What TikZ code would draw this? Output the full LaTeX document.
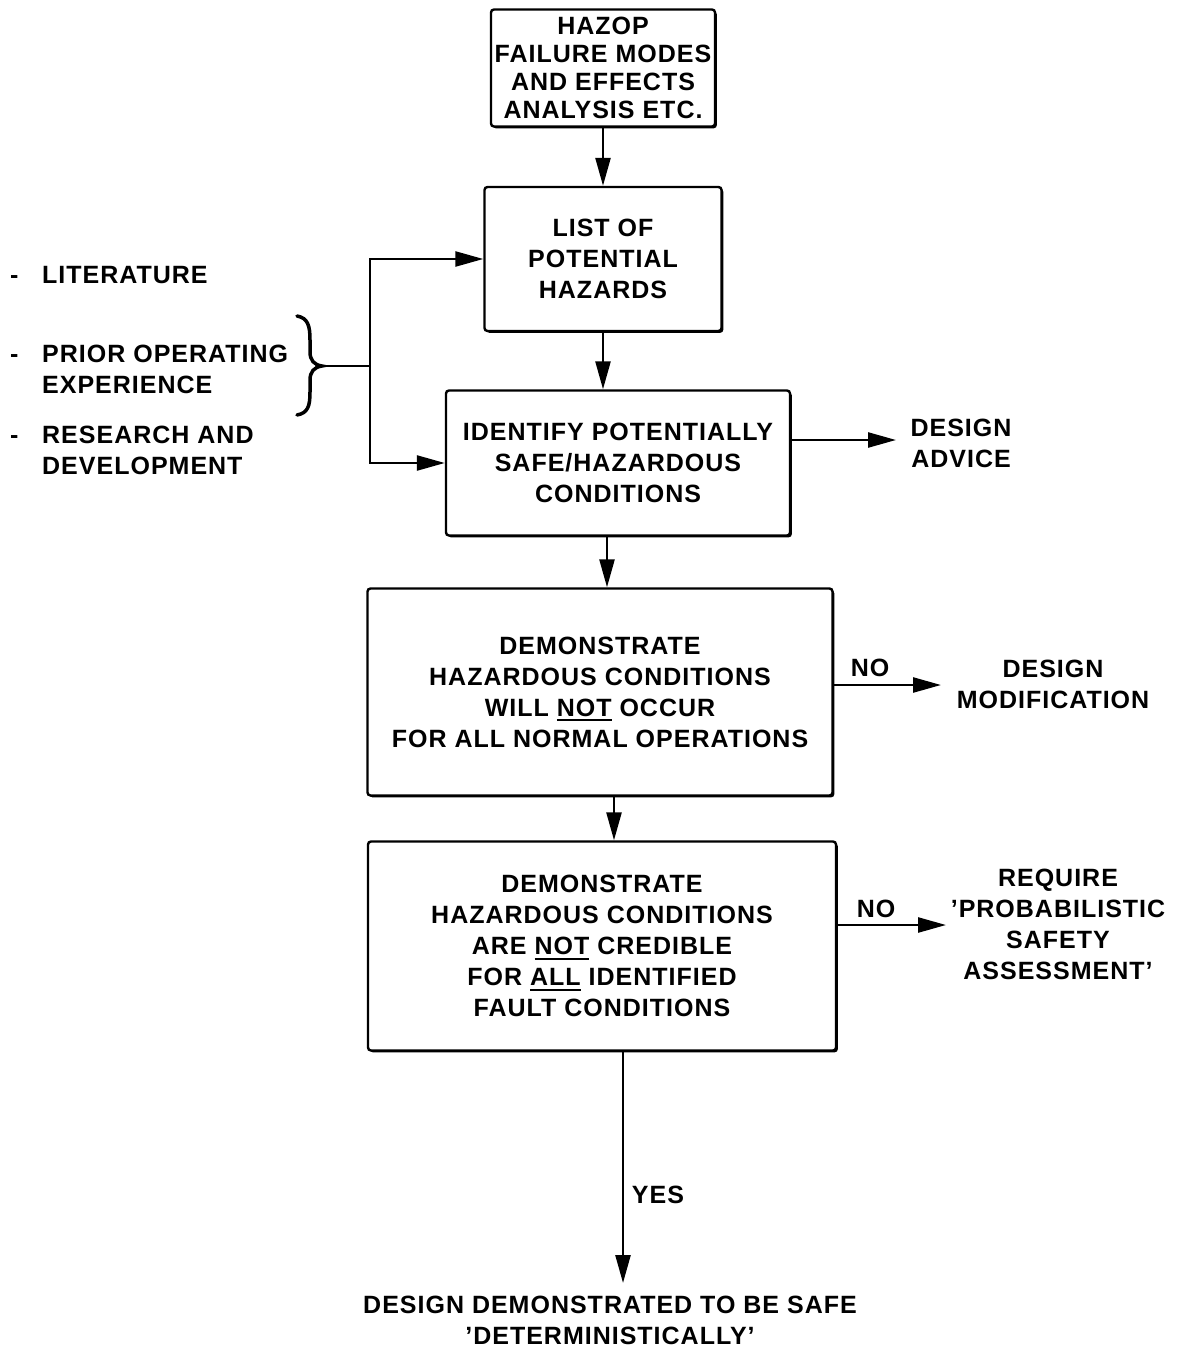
\documentclass[tikz,border=0pt]{standalone}
\usepackage{fontspec}
\setmainfont{Liberation Sans}[LetterSpace=4]
\usetikzlibrary{arrows.meta,shadows}
\newcommand\ulx[1]{\setbox0\hbox{#1}\rlap{\rule[-5pt]{\wd0}{2pt}}#1}
\begin{document}
\begin{tikzpicture}[x=1pt,y=-1pt,
  every node/.style={font=\bfseries\fontsize{25}{31}\selectfont, align=center, inner sep=0pt},
  box/.style={draw, line width=2.4pt, fill=white, rounded corners=3pt,
    drop shadow={shadow xshift=1.8pt, shadow yshift=-1.8pt, fill=black, opacity=1}},
  arr/.style={line width=2.5pt, -{Triangle[length=28pt,width=15pt]}},
  ln/.style={line width=2.5pt}]
\useasboundingbox (0,0) rectangle (1182,1348);
\fill[white] (0,0) rectangle (1182,1348);

\node[box, minimum width=224pt, minimum height=117pt, font=\bfseries\fontsize{25}{28}\selectfont] (b1) at (603,68) {HAZOP\\FAILURE MODES\\AND EFFECTS\\ANALYSIS ETC.};
\node[box, minimum width=237pt, minimum height=144pt] (b2) at (603,259) {LIST OF\\POTENTIAL\\HAZARDS};
\node[box, minimum width=344pt, minimum height=145pt] (b3) at (618,463) {IDENTIFY POTENTIALLY\\SAFE/HAZARDOUS\\CONDITIONS};
\node[box, minimum width=465pt, minimum height=207pt] (b4) at (600,692) {DEMONSTRATE\\HAZARDOUS CONDITIONS\\WILL \ulx{NOT} OCCUR\\FOR ALL NORMAL OPERATIONS};
\node[box, minimum width=468pt, minimum height=209pt] (b5) at (602,946) {DEMONSTRATE\\HAZARDOUS CONDITIONS\\ARE \ulx{NOT} CREDIBLE\\FOR \ulx{ALL} IDENTIFIED\\FAULT CONDITIONS};

\node (advice) at (961,443) {DESIGN\\ADVICE};
\node (modif) at (1053,684) {DESIGN\\MODIFICATION};
\node (psa) at (1058,924) {REQUIRE\\{'}PROBABILISTIC\\SAFETY\\ASSESSMENT{'}};
\node (safe) at (610,1320) {DESIGN DEMONSTRATED TO BE SAFE\\{'}DETERMINISTICALLY{'}};
\node (no1) at (870,668) {NO};
\node (no2) at (876,909) {NO};
\node (yes) at (658,1195) {YES};

\node[anchor=west] (lit) at (10,275) {\makebox[32pt][l]{-}LITERATURE};
\node[anchor=west, align=left] (prior) at (10,369) {\makebox[32pt][l]{-}PRIOR OPERATING\\\hspace*{32pt}EXPERIENCE};
\node[anchor=west, align=left] (rnd) at (10,450) {\makebox[32pt][l]{-}RESEARCH AND\\\hspace*{32pt}DEVELOPMENT};

% brace
\draw[line width=3.5pt, line cap=round] (297,316) .. controls (308,318) and (310,326) .. (310,340) -- (310,352) .. controls (310,360) and (314,365) .. (322,366) .. controls (314,367) and (310,372) .. (310,380) -- (310,392) .. controls (310,406) and (308,413) .. (297,415);
\coordinate (bt) at (324,366);
\coordinate (jm) at (370,366);
\draw[ln] (bt) -- (jm);
\draw[arr] (jm) |- (b2.west);
\draw[arr] (jm) |- (b3.west);

% vertical flow
\draw[arr] (b1.south) -- (b2.north);
\draw[arr] (b2.south) -- (b2.south |- b3.north);
\draw[arr] ([xshift=-11pt]b3.south) -- ([xshift=-11pt]b3.south |- b4.north);
\draw[arr] ([xshift=14pt]b4.south) -- ([xshift=14pt]b4.south |- b5.north);
\coordinate (yend) at (623,1283);
\draw[arr] ([xshift=21pt]b5.south) -- (yend);

% side arrows
\coordinate (aend) at (896,440);
\draw[arr] ([yshift=23pt]b3.east) -- (aend);
\coordinate (mend) at (941,685);
\draw[arr] ([yshift=7pt]b4.east) -- (mend);
\coordinate (pend) at (946,925);
\draw[arr] ([yshift=21pt]b5.east) -- (pend);
\end{tikzpicture}
\end{document}
